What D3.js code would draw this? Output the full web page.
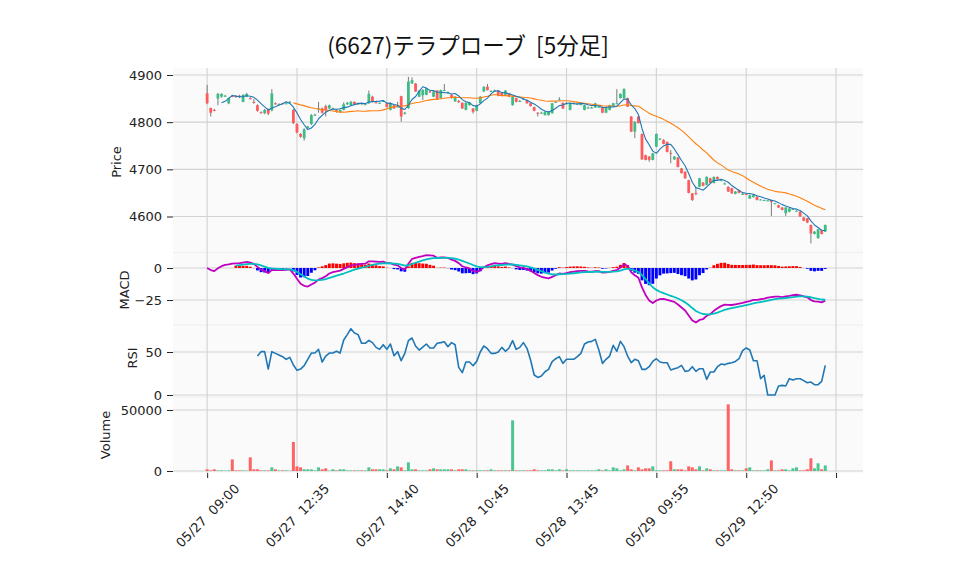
<!DOCTYPE html>
<html><head><meta charset="utf-8">
<script src="https://cdn.jsdelivr.net/npm/d3@7"></script>
<style>body{margin:0;background:#fff} text{white-space:pre}</style>
</head><body><svg id="c" width="958" height="575"></svg>
<script>
const title = "(6627)テラプローブ  [5分足]";
const tickIndex = [0,25,50,75,100,125,150,175];
const tickLabels = ["05/27  09:00","05/27  12:35","05/27  14:40","05/28  10:45","05/28  13:45","05/29  09:55","05/29  12:50",""];
const priceTicks = [4600,4700,4800,4900];
const macdTicks = [-25,0];
const rsiTicks = [0,50];
const volTicks = [0,50000];

const opens = [4861,4830,4826,4850,4854,4856,4840,4856,4855,4856,4843,4854,4851,4843,4836,4821,4819,4828,4825,4840,
4838,4840,4840,4842,4826,4796,4775,4766,4788,4796,4815,4828,4829,4834,4829,4829,4826,4821,4826,4838,
4836,4843,4839,4840,4838,4840,4854,4842,4841,4845,4840,4826,4836,4833,4855,4818,4830,4882,4882,4854,
4857,4858,4865,4854,4867,4851,4868,4863,4858,4844,4845,4841,4826,4836,4829,4824,4840,4865,4875,4866,
4867,4867,4863,4858,4861,4836,4851,4845,4850,4847,4840,4832,4820,4820,4815,4815,4819,4843,4848,4841,
4840,4826,4840,4840,4838,4826,4831,4831,4831,4833,4832,4820,4826,4834,4840,4851,4851,4851,4812,4780,
4812,4775,4730,4727,4720,4748,4763,4762,4758,4735,4721,4725,4702,4695,4677,4649,4650,4663,4672,4667,
4681,4671,4684,4677,4670,4663,4660,4648,4656,4648,4648,4638,4641,4642,4636,4635,4634,4635,4628,4624,
4619,4607,4610,4616,4612,4610,4598,4596,4582,4563,4554,4571,4568];
const highs = [4879,4831,4828,4862,4861,4858,4852,4858,4857,4858,4859,4862,4853,4849,4838,4823,4828,4829,4870,4842,
4840,4841,4842,4845,4828,4798,4777,4787,4792,4817,4818,4843,4831,4837,4837,4831,4827,4827,4842,4843,
4845,4844,4841,4842,4840,4867,4856,4843,4842,4847,4841,4842,4837,4843,4856,4822,4896,4895,4883,4868,
4870,4873,4866,4866,4868,4869,4881,4865,4859,4855,4847,4842,4842,4842,4830,4837,4855,4876,4881,4868,
4869,4868,4864,4868,4862,4855,4852,4847,4852,4848,4841,4833,4821,4822,4823,4823,4841,4845,4853,4842,
4842,4842,4842,4842,4840,4837,4833,4833,4841,4835,4833,4833,4837,4841,4870,4861,4872,4852,4813,4802,
4813,4776,4731,4728,4735,4776,4766,4764,4759,4741,4728,4726,4703,4696,4678,4650,4663,4682,4673,4685,
4682,4685,4685,4679,4672,4664,4661,4654,4657,4650,4649,4646,4647,4643,4637,4636,4635,4636,4629,4625,
4620,4620,4618,4617,4613,4611,4599,4597,4583,4569,4574,4572,4583];
const lows = [4838,4812,4823,4836,4852,4854,4838,4853,4852,4851,4842,4853,4848,4839,4822,4818,4817,4815,4823,4837,
4836,4838,4838,4840,4796,4776,4767,4761,4786,4794,4813,4820,4818,4812,4828,4827,4820,4820,4825,4836,
4835,4837,4837,4837,4837,4839,4842,4840,4840,4843,4831,4825,4828,4832,4801,4816,4828,4881,4864,4853,
4847,4857,4862,4853,4847,4850,4866,4861,4850,4843,4841,4828,4825,4835,4818,4823,4839,4864,4867,4865,
4865,4855,4855,4857,4853,4835,4842,4843,4848,4839,4833,4823,4812,4818,4814,4814,4818,4841,4846,4828,
4838,4825,4838,4838,4836,4825,4829,4829,4830,4831,4819,4819,4825,4833,4838,4850,4850,4832,4779,4766,
4797,4720,4719,4716,4719,4747,4762,4753,4736,4713,4720,4704,4691,4680,4649,4633,4645,4662,4664,4666,
4670,4670,4678,4675,4668,4652,4648,4647,4649,4646,4645,4637,4640,4634,4635,4634,4633,4601,4627,4618,
4613,4601,4609,4615,4611,4599,4590,4586,4543,4562,4553,4562,4567];
const closes = [4840,4820,4825,4860,4860,4856,4851,4855,4854,4853,4858,4860,4850,4842,4824,4820,4826,4818,4861,4839,
4838,4839,4840,4843,4798,4778,4769,4785,4791,4815,4816,4829,4820,4826,4836,4829,4825,4826,4838,4841,
4843,4838,4839,4838,4838,4860,4843,4841,4841,4845,4832,4840,4829,4833,4812,4820,4886,4889,4865,4867,
4868,4872,4864,4865,4848,4868,4868,4863,4851,4854,4842,4829,4841,4841,4822,4836,4854,4875,4868,4866,
4867,4856,4856,4867,4854,4854,4843,4845,4850,4840,4834,4824,4819,4820,4822,4822,4840,4843,4848,4829,
4840,4841,4840,4840,4838,4836,4831,4831,4840,4833,4820,4832,4836,4840,4840,4860,4870,4833,4780,4801,
4798,4721,4720,4720,4734,4775,4765,4754,4737,4733,4727,4705,4692,4681,4650,4635,4648,4681,4665,4684,
4671,4684,4679,4677,4670,4653,4649,4653,4650,4648,4647,4645,4646,4635,4636,4635,4634,4631,4628,4619,
4614,4619,4617,4616,4612,4600,4591,4587,4564,4568,4573,4563,4582];
const volumes = [1400,500,1400,500,500,300,500,9500,500,500,500,300,11200,1400,1400,500,500,500,3000,1400,
500,500,500,300,23800,3800,3000,1400,1400,1400,500,3000,1400,2200,300,1400,500,1400,1400,500,
500,500,500,500,500,3000,1400,1400,1400,1400,500,2200,1400,3800,3000,500,7100,1400,1400,500,
500,500,1400,2200,1400,1400,1400,1400,1400,500,1400,1400,1400,500,500,500,500,500,500,1400,
500,500,500,500,500,41500,500,500,500,500,500,1400,500,500,500,1400,1400,500,1400,500,
1400,500,500,500,500,500,500,500,500,1400,500,1400,500,3000,2200,500,1400,4600,1400,500,
3000,1400,2200,2200,3800,500,500,500,500,8000,1400,1400,1400,500,3800,3000,1400,3800,500,2200,
1400,500,500,500,500,54600,1400,500,500,500,2200,3000,500,500,500,500,1400,8700,500,500,
1400,1400,500,2200,3000,500,500,1400,10400,2200,6300,1400,4600];
const rsiValues = [null,null,null,null,null,null,null,null,null,null,null,null,null,null,
45.3,50.4,50.4,30.2,50.4,48.4,46.5,44.6,41.5,43.8,34.9,28.7,30.2,34.1,41.5,48.8,
48.8,53.1,38.4,45.3,48.8,48.8,50.8,48.8,64,70.2,77.1,72.1,70.2,60.1,60.1,63.6,60.9,55.4,53.1,58.5,
53.1,59.3,45.7,50.4,39.9,48.4,63.2,66.3,57,52.3,55.8,59.3,54.7,54.7,60.1,60.9,62,56.2,60.9,58.5,
32.2,26,38.4,38.4,34.1,39.1,50,57,53.9,48.4,48.4,50,55.4,50.8,54.7,63.2,53.1,55.4,60.9,54.3,
40.7,23.3,20.5,22.1,27.1,29.8,38.8,42.2,44.6,36.8,41.5,41.5,41.5,44.6,48.4,59.3,61.6,62.4,64.7,52.3,
36.8,41.5,45.3,57.8,50.8,62.4,56.2,45.3,37.6,41.5,39.9,29.8,29.8,32.9,39.1,42.2,38.4,37.6,37.6,29.1,
30.6,31.8,34.5,27.5,28.3,32.9,27.5,30.6,30.6,18.2,26.7,26.7,32.9,36,35.3,36.8,37.6,39.1,42.2,51.6,
54.7,52.3,39.9,39.9,19,22.9,0,0,0,10.5,11.2,10.5,19,17.4,19,19,16.7,14.3,15.1,12,
12,15.9,34.5];

// ---------- derived indicators ----------
const n = closes.length;
function sma(arr, p){ return arr.map((v,i)=> i<p-1 ? null : d3.mean(arr.slice(i-p+1,i+1))); }
function ema(arr, span){ const a = 2/(span+1); const out=[]; arr.forEach((v,i)=>{ out.push(i===0? v : a*v+(1-a)*out[i-1]); }); return out; }
const ma5 = sma(closes,5), ma25 = sma(closes,25);
const e12 = ema(closes,12), e26 = ema(closes,26);
const macd = e12.map((v,i)=>v-e26[i]);
const sigFull = ema(macd,9);
const signal = sigFull.map((v,i)=> i<8 ? null : v);
const hist = macd.map((v,i)=> i<8 ? null : v-sigFull[i]);

// ---------- layout ----------
const svg = d3.select("#c");
const L = 173, R = 863;
const panels = {
  price:{top:68,bottom:252.5},
  macd:{top:252.5,bottom:325},
  rsi:{top:325,bottom:397},
  vol:{top:397,bottom:473}
};
const x = d3.scaleLinear().domain([-9.5,182.5]).range([L,R]);
const yP = d3.scaleLinear().domain([4523.7,4914.8]).range([panels.price.bottom,panels.price.top]);
const yM = d3.scaleLinear().domain([-44.5,12.1]).range([panels.macd.bottom,panels.macd.top]);
const yR = d3.scaleLinear().domain([-2.3,81.4]).range([panels.rsi.bottom,panels.rsi.top]);
const yV = d3.scaleLinear().domain([-1640,60650]).range([panels.vol.bottom,panels.vol.top]);

const UP = "#3dbd85", DOWN = "#ff5b5b", WICK = "#7a7a7a", GRID = "#d2d2d2";
const FONT = "'DejaVu Sans', sans-serif";

Object.values(panels).forEach(p=>{
  svg.append("rect").attr("x",L).attr("y",p.top).attr("width",R-L).attr("height",p.bottom-p.top).attr("fill","#fafafa");
});
[panels.macd.top, panels.rsi.top, panels.vol.top].forEach(yy=>{
  svg.append("line").attr("x1",L).attr("x2",R).attr("y1",yy).attr("y2",yy).attr("stroke","#eeeeee").attr("stroke-width",1);
});

const grid = svg.append("g").attr("stroke",GRID).attr("stroke-width",1.1);
Object.values(panels).forEach(p=>{
  tickIndex.forEach(t=>{
    grid.append("line").attr("x1",x(t)).attr("x2",x(t)).attr("y1",p.top).attr("y2",p.bottom);
  });
});
[[yP,priceTicks],[yM,macdTicks],[yR,rsiTicks],[yV,volTicks]].forEach(([s,tv])=>{
  tv.forEach(v=> grid.append("line").attr("x1",L).attr("x2",R).attr("y1",s(v)).attr("y2",s(v)));
});

function yAxis(s, tv, fmt){
  const g = svg.append("g").attr("transform",`translate(${L},0)`)
    .call(d3.axisLeft(s).tickValues(tv).tickFormat(fmt).tickSize(6).tickPadding(5));
  g.select(".domain").remove();
  g.selectAll("text").attr("font-family",FONT).attr("font-size",13).attr("fill","#222");
  g.selectAll("line").attr("stroke","#222");
}
const minusFmt = d => (d<0? "\u2212"+Math.abs(d) : String(d));
yAxis(yP, priceTicks, minusFmt);
yAxis(yM, macdTicks, minusFmt);
yAxis(yR, rsiTicks, minusFmt);
yAxis(yV, volTicks, minusFmt);

const xg = svg.append("g").attr("transform",`translate(0,${panels.vol.bottom})`)
  .call(d3.axisBottom(x).tickValues(tickIndex).tickFormat((d,i)=>tickLabels[i]).tickSize(5).tickPadding(3));
xg.select(".domain").remove();
xg.selectAll("line").attr("stroke","#222");
xg.selectAll("text").attr("font-family",FONT).attr("font-size",13).attr("fill","#222")
  .attr("text-anchor","middle").attr("dy","0.35em")
  .each(function(){
    const len = this.getComputedTextLength();
    const h = (len + 12) * Math.SQRT1_2;
    d3.select(this).attr("y",0).attr("transform",`translate(0,${9 + h/2}) rotate(-45)`);
  });

function yLabel(txt, cx, cy){
  svg.append("text").attr("transform",`translate(${cx+4.5},${cy}) rotate(-90)`).attr("text-anchor","middle")
    .attr("font-family",FONT).attr("font-size",13).attr("fill","#222").text(txt);
}
yLabel("Price",116,162);
yLabel("MACD",124,290);
yLabel("RSI",132,358);
yLabel("Volume",105,435);

svg.append("text").attr("x",468).attr("y",54).attr("text-anchor","middle")
  .attr("font-family","'Noto Sans CJK JP', sans-serif").attr("font-size",22.5).attr("fill","#111").text(title);

const idx = d3.range(n);
const cg = svg.append("g");
cg.selectAll("line.w").data(idx).join("line").attr("class","w")
  .attr("x1",i=>x(i)).attr("x2",i=>x(i)).attr("y1",i=>yP(highs[i])).attr("y2",i=>yP(lows[i]))
  .attr("stroke",WICK).attr("stroke-width",1);
const bw = 2.8;
cg.selectAll("rect").data(idx).join("rect")
  .attr("x",i=>x(i)-bw/2).attr("width",bw)
  .attr("y",i=>yP(Math.max(opens[i],closes[i])))
  .attr("height",i=>Math.max(1,Math.abs(yP(opens[i])-yP(closes[i]))))
  .attr("fill",i=>closes[i]>=opens[i]?UP:DOWN);

function drawLine(data, ys, color, w){
  svg.append("path").datum(idx.filter(i=>data[i]!=null))
    .attr("d",d3.line().x(i=>x(i)).y(i=>ys(data[i])))
    .attr("fill","none").attr("stroke",color).attr("stroke-width",w).attr("stroke-linejoin","round");
}
drawLine(ma25, yP, "#ff7f0e", 1.1);
drawLine(ma5, yP, "#1f77b4", 1.1);

const hw = 2.9;
svg.append("g").selectAll("rect").data(idx.filter(i=>hist[i]!=null)).join("rect")
  .attr("x",i=>x(i)-hw/2).attr("width",hw)
  .attr("y",i=>yM(Math.max(0,hist[i]))).attr("height",i=>Math.abs(yM(hist[i])-yM(0)))
  .attr("fill",i=>hist[i]>=0?"#ff0000":"#0000ff");
drawLine(macd, yM, "#bf00bf", 1.8);
drawLine(signal, yM, "#00bfbf", 1.8);

drawLine(rsiValues, yR, "#1f77b4", 1.6);

const vw = 3.0;
svg.append("g").selectAll("rect").data(idx).join("rect")
  .attr("x",i=>x(i)-vw/2).attr("width",vw)
  .attr("y",i=>yV(volumes[i])).attr("height",i=>yV(0)-yV(volumes[i]))
  .attr("fill",i=>closes[i]>=opens[i]?"#4cc690":"#ff6464");
</script></body></html>
